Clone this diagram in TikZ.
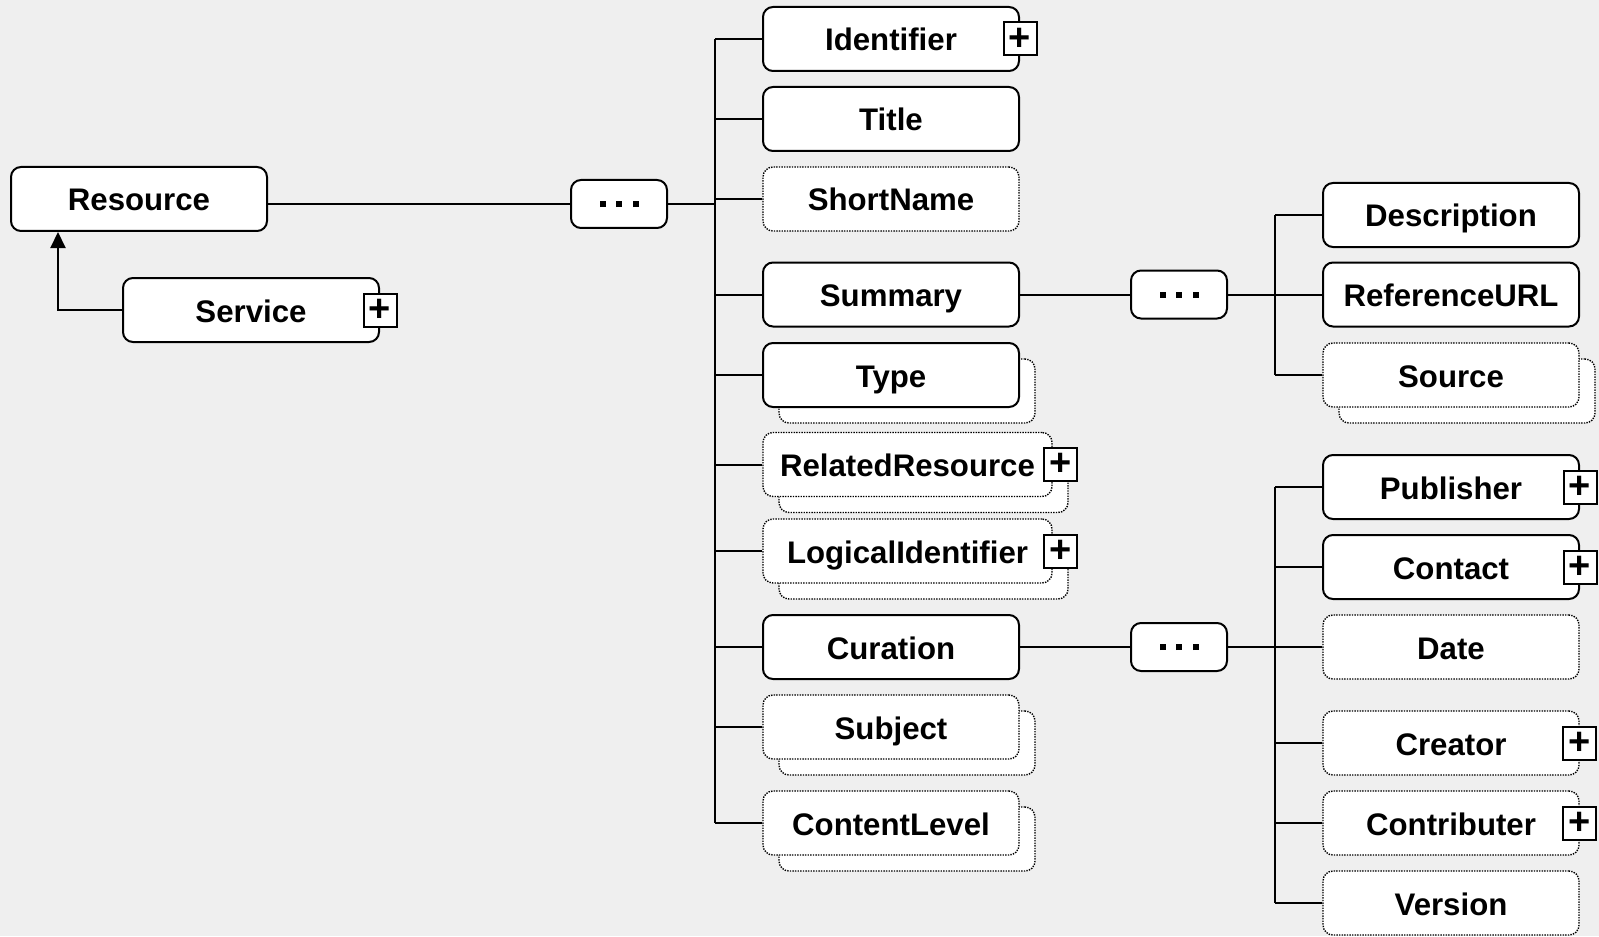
\documentclass[tikz,border=0pt]{standalone}
\usepackage{fontspec}
\setmainfont{Liberation Sans}
\usetikzlibrary{arrows.meta,shadows}
\definecolor{canvas}{RGB}{239,239,239}
\newcommand\seqdots{\rule{3pt}{3pt}\hspace{5.25pt}\rule{3pt}{3pt}\hspace{5.25pt}\rule{3pt}{3pt}}

\begin{document}
\begin{tikzpicture}[
	x=0.5pt,
	y=-0.5pt,
	element/.style={
		rectangle,
		draw=black,
		line width=1pt,
		fill=white,
		rounded corners=5pt,
		align=center,
		inner sep=0pt,
		font=\fontsize{15.6}{18}\selectfont\bfseries,
		text height=12pt,
		text depth=0pt,
		minimum height=32pt,
		minimum width=128pt
	},
	optional/.style={
		element,
		line width=0.7pt,
		dash pattern=on 0.7pt off 0.6pt
	},
	stacked/.style={
		copy shadow={
			shadow xshift=8pt,
			shadow yshift=-8pt,
			draw=black,
			fill=white,
			line width=0.7pt,
			dash pattern=on 0.7pt off 0.6pt
		}
	},
	sequence/.style={
		element,
		minimum width=48pt,
		minimum height=24pt,
		text height=3pt
	},
	expand/.style={
		rectangle,
		draw=black,
		line width=1pt,
		fill=white,
		inner sep=0pt,
		minimum size=16.5pt,
		font=\fontsize{19}{19}\selectfont\bfseries
	},
	link/.style={
		line width=1pt
	},
]

\path[use as bounding box, fill=canvas] (0,0) rectangle (1599,936);

% Resource and Service
\node[element] (resource) at (139,199) {Resource};
\node[element] (service) at (251,310) {Service};
\node[expand] (service-plus) at (service.east) {+};
\draw[link, -{Triangle[width=7.5pt,length=8pt]}] (service.west) -| ([xshift=24pt]resource.south west);

% Sequence of Resource
\node[sequence] (seq) at (619,204) {\seqdots};
\coordinate (bus) at (715,0);
\draw[link] (seq.west) -- (seq.west -| resource.east);
\draw[link] (seq.east) -- (seq.east -| bus);

% Children of Resource
\node[element] (identifier) at (891,39) {Identifier};
\node[expand] (identifier-plus) at (identifier.east) {+};
\node[element] (title) at (891,119) {Title};
\node[optional] (shortname) at (891,199) {ShortName};
\node[element] (summary) at (891,294.5) {Summary};
\node[element, stacked] (type) at (891,375) {Type};
\node[optional, stacked, minimum width=144.5pt] (relres) at (907.5,464.5) {RelatedResource};
\node[expand] (relres-plus) at ([xshift=4pt]relres.east) {+};
\node[optional, stacked, minimum width=144.5pt] (logid) at (907.5,551) {LogicalIdentifier};
\node[expand] (logid-plus) at ([xshift=4pt]logid.east) {+};
\node[element] (curation) at (891,647) {Curation};
\node[optional, stacked] (subject) at (891,727) {Subject};
\node[optional, stacked] (clevel) at (891,823) {ContentLevel};

\foreach \n in {identifier, title, shortname, summary, type, relres, logid, curation, subject, clevel}
	\draw[link] (\n.west) -- (\n.west -| bus);
\draw[link] (identifier.west -| bus) -- (clevel.west -| bus);

% Sequence of Summary
\node[sequence] (sumseq) at (1179,294.5) {\seqdots};
\coordinate (sumbus) at (1275,0);
\draw[link] (summary) -- (sumseq);
\draw[link] (sumseq.east) -- (sumseq.east -| sumbus);

\node[element] (description) at (1451,215) {Description};
\node[element] (refurl) at (1451,294.5) {ReferenceURL};
\node[optional, stacked] (source) at (1451,375) {Source};

\foreach \n in {description, refurl, source}
	\draw[link] (\n.west) -- (\n.west -| sumbus);
\draw[link] (description.west -| sumbus) -- (source.west -| sumbus);

% Sequence of Curation
\node[sequence] (curseq) at (1179,647) {\seqdots};
\coordinate (curbus) at (1275,0);
\draw[link] (curation) -- (curseq);
\draw[link] (curseq.east) -- (curseq.east -| curbus);

\node[element] (publisher) at (1451,487) {Publisher};
\node[expand] (publisher-plus) at (publisher.east) {+};
\node[element] (contact) at (1451,567) {Contact};
\node[expand] (contact-plus) at (contact.east) {+};
\node[optional] (date) at (1451,647) {Date};
\node[optional] (creator) at (1451,743) {Creator};
\node[expand] (creator-plus) at (creator.east) {+};
\node[optional] (contributer) at (1451,823) {Contributer};
\node[expand] (contributer-plus) at (contributer.east) {+};
\node[optional] (version) at (1451,903) {Version};

\foreach \n in {publisher, contact, date, creator, contributer, version}
	\draw[link] (\n.west) -- (\n.west -| curbus);
\draw[link] (publisher.west -| curbus) -- (version.west -| curbus);

\end{tikzpicture}
\end{document}
